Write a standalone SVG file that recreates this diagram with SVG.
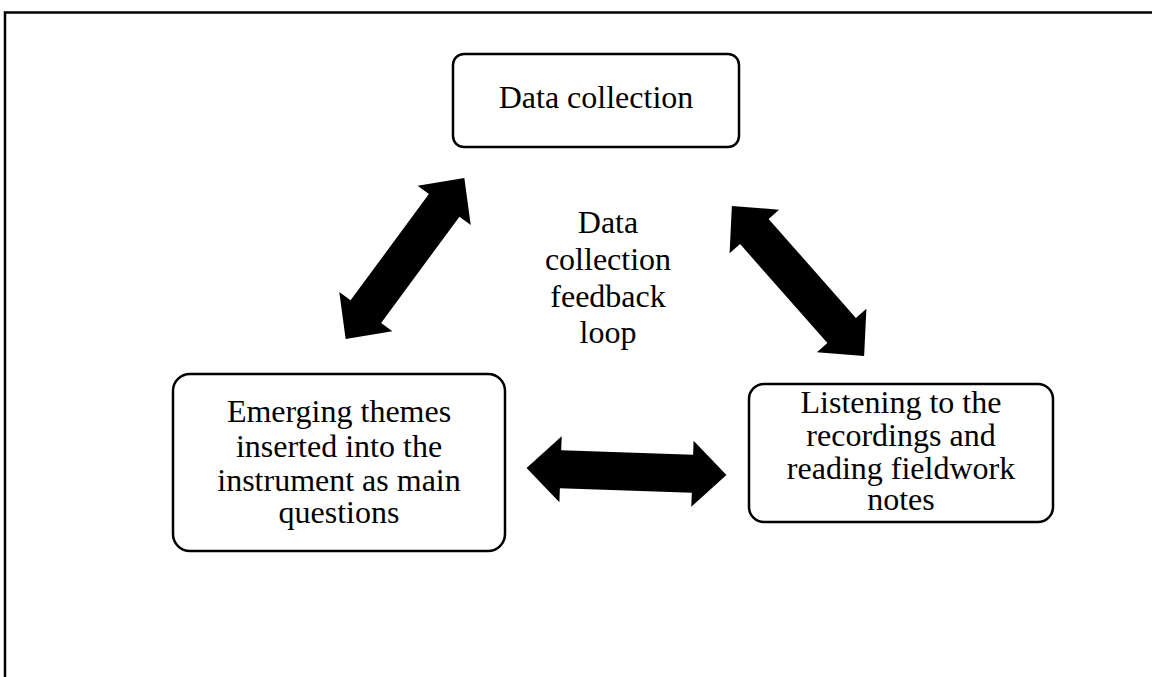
<svg xmlns="http://www.w3.org/2000/svg" width="1152" height="677" viewBox="0 0 1152 677">
<style>
.box{fill:#fff;stroke:#000;stroke-width:2.5}
.t{font-family:"Liberation Serif","Times New Roman",serif;font-size:32px;fill:#000;text-anchor:middle}
.arr{fill:#000}
.frame{stroke:#000;stroke-width:2.5;fill:none}
</style>
<defs>
<polygon id="dbl" points="-100,0 -66,-33 -66,-19 66,-19 66,-33 100,0 66,33 66,19 -66,19 -66,33"/>
</defs>
<rect width="1152" height="677" fill="#fff"/>
<g id="frame">
<path class="frame" d="M5,677 V12.5 H1152"/>
</g>
<g id="connectors">
<use href="#dbl" class="arr" transform="translate(405,258.5) rotate(-53.6)"/>
<use href="#dbl" class="arr" transform="translate(798,281) rotate(48.6)"/>
<use href="#dbl" class="arr" transform="translate(626.5,471.5) rotate(2)"/>
</g>
<g id="node-data-collection">
<rect class="box" x="453" y="54" width="286" height="93" rx="11"/>
<text class="t" x="596" y="108">Data collection</text>
</g>
<g id="node-center-label">
<text class="t" x="608" y="233">Data</text>
<text class="t" x="608" y="270">collection</text>
<text class="t" x="608" y="307">feedback</text>
<text class="t" x="608" y="343">loop</text>
</g>
<g id="node-emerging">
<rect class="box" x="173" y="374" width="332" height="177" rx="17"/>
<text class="t" x="339" y="422">Emerging themes</text>
<text class="t" x="339" y="456.5">inserted into the</text>
<text class="t" x="339" y="491">instrument as main</text>
<text class="t" x="339" y="523">questions</text>
</g>
<g id="node-listening">
<rect class="box" x="749" y="384" width="304" height="138" rx="15"/>
<text class="t" x="901" y="413">Listening to the</text>
<text class="t" x="901" y="446">recordings and</text>
<text class="t" x="901" y="479">reading fieldwork</text>
<text class="t" x="901" y="510">notes</text>
</g>
</svg>
